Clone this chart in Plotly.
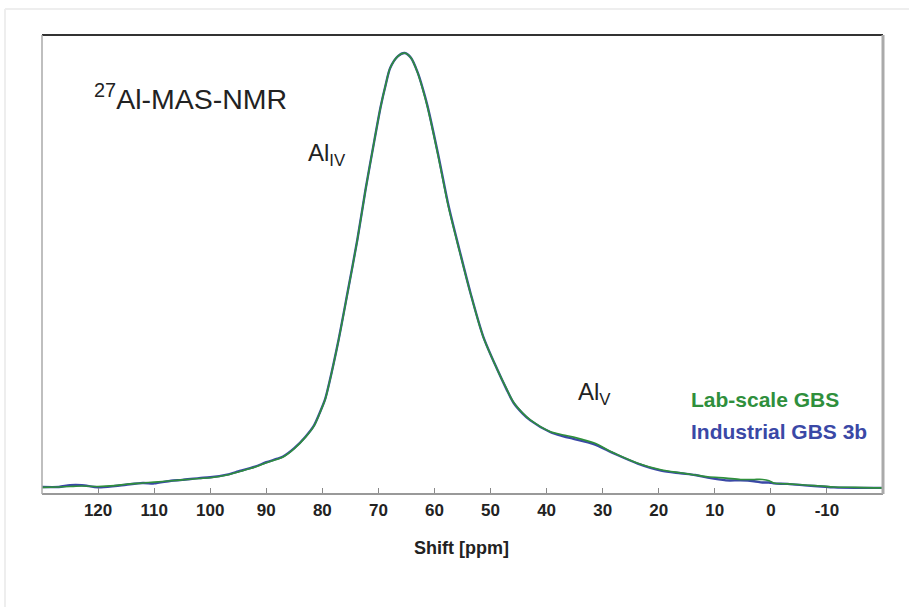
import plotly.graph_objects as go

# ---- data ----
shift_ppm = [130, 127, 125, 122.9, 120, 117, 115, 112, 110, 107, 105, 102, 100, 97, 95, 92,
             90, 88, 87, 85, 83, 81.5, 80.5, 79.5, 78.75, 77.1, 75.5, 73.75, 72.3, 70.7,
             69.6, 68.7, 67.9, 66.5, 65.3, 64.2, 63.0, 62.1, 61.25, 59.3, 57.5, 55.5, 53.6,
             51.3, 48.75, 47.2, 45.9, 44.3, 42.9, 39.3, 37, 35.2, 31.6, 28, 23.75, 19.6, 16.1, 13.5,
             11.25, 8, 5.4, 3, 1.5, 0.3, -0.5, -3, -6.6, -9, -11.25, -15, -18.4, -20]
lab_scale = [1.5, 1.6, 1.7, 1.8, 1.7, 1.9, 2.2, 2.5, 2.7, 3.0, 3.2, 3.5, 3.7, 4.3, 5.0, 6.1,
             7.1, 7.9, 8.4, 10.3, 12.9, 15.4, 18.2, 21.4, 25.2, 34.9, 45.6, 57.6, 68.9, 80.3,
             87.8, 92.8, 96.6, 99.3, 100.0, 98.9, 95.5, 91.8, 87.8, 76.4, 65.1, 54.9, 45.6,
             35.6, 28.1, 24.0, 20.8, 18.4, 16.8, 14.1, 13.4, 12.9, 11.6, 9.3, 7.0, 5.5, 4.8, 4.3,
             3.9, 3.6, 3.3, 3.3, 3.3, 3.0, 2.5, 2.3, 2.0, 1.8, 1.6, 1.5, 1.4, 1.4]
industrial = [1.6, 1.6, 2.0, 2.0, 1.5, 1.8, 2.1, 2.5, 2.4, 3.0, 3.2, 3.6, 3.8, 4.4, 5.1, 6.2,
              7.2, 8.0, 8.5, 10.4, 13.0, 15.5, 18.3, 21.5, 25.3, 35.0, 45.7, 57.7, 69.0, 80.3,
              87.8, 92.8, 96.6, 99.3, 100.0, 98.9, 95.6, 92.0, 88.0, 76.7, 65.4, 55.1, 45.7,
              35.7, 28.1, 23.9, 20.7, 18.3, 16.7, 14.0, 13.1, 12.5, 11.3, 9.2, 6.9, 5.3, 4.7, 4.3,
              3.7, 3.1, 3.1, 2.9, 2.6, 2.6, 2.4, 2.3, 1.9, 1.7, 1.5, 1.4, 1.4, 1.4]
tick_vals = [120, 110, 100, 90, 80, 70, 60, 50, 40, 30, 20, 10, 0, -10]
tick_text = [str(v) for v in tick_vals]

GREEN = "#2f8f3c"
BLUE = "#3a48a6"
FONT = "Liberation Sans, Arial, sans-serif"

fig = go.Figure()
fig.add_trace(go.Scatter(x=shift_ppm, y=industrial, mode="lines", name="Industrial GBS 3b",
                         line=dict(color=BLUE, width=2.4, shape="spline", smoothing=0.8)))
fig.add_trace(go.Scatter(x=shift_ppm, y=lab_scale, mode="lines", name="Lab-scale GBS",
                         line=dict(color=GREEN, width=1.6, shape="spline", smoothing=0.8)))

fig.update_layout(
    width=909, height=607,
    margin=dict(l=42, r=26, t=35, b=113),
    paper_bgcolor="white", plot_bgcolor="white",
    showlegend=False,
    font=dict(family=FONT, color="#222"),
    xaxis=dict(range=[130, -20], tickvals=tick_vals, ticktext=tick_text,
               ticks="inside", ticklen=6, tickwidth=1.2, tickcolor="#888",
               ticklabelstandoff=4,
               showgrid=False, zeroline=False, showline=False,
               tickfont=dict(size=17, color="#222", weight="bold", family=FONT)),
    yaxis=dict(range=[0, 104.08], visible=False, showgrid=False, zeroline=False),
)

# plot frame: different edge colours
fig.add_shape(type="line", xref="paper", yref="paper", x0=0, x1=1, y0=1, y1=1,
              line=dict(color="#333", width=2))
fig.add_shape(type="line", xref="paper", yref="paper", x0=0, x1=1, y0=0, y1=0,
              line=dict(color="#999", width=2))
fig.add_shape(type="line", xref="paper", yref="paper", x0=0, x1=0, y0=0, y1=1,
              line=dict(color="#aaa", width=1.5))
fig.add_shape(type="line", xref="paper", yref="paper", x0=1, x1=1, y0=0, y1=1,
              line=dict(color="#aaa", width=3))
# outer faint frame of the figure
fig.add_shape(type="line", xref="paper", yref="paper", x0=-0.044, x1=1.04, y0=1.0566, y1=1.0566,
              line=dict(color="#eee", width=2))
fig.add_shape(type="line", xref="paper", yref="paper", x0=-0.044, x1=-0.044, y0=1.0566, y1=-0.25,
              line=dict(color="#eee", width=2))

ann = [
    dict(x=121.0, y=90.0, text="<sup>27</sup>Al-MAS-NMR", font=dict(size=28.5, color="#222")),
    dict(x=83.0, y=76.9, text="Al<sub>IV</sub>", font=dict(size=24, color="#222")),
    dict(x=34.8, y=22.9, text="Al<sub>V</sub>", font=dict(size=24, color="#222")),
    dict(x=14.6, y=21.5, text="<b>Lab-scale GBS</b>", font=dict(size=21, color=GREEN)),
    dict(x=14.6, y=14.1, text="<b>Industrial GBS 3b</b>", font=dict(size=21, color=BLUE)),
]
for a in ann:
    fig.add_annotation(xref="x", yref="y", xanchor="left", yanchor="middle",
                       showarrow=False, **a)
fig.add_annotation(xref="paper", yref="paper", x=0.4994, y=-0.1176, xanchor="center",
                   yanchor="middle", showarrow=False, text="<b>Shift [ppm]</b>",
                   font=dict(size=18, color="#222"))

fig.write_html("out.html")
